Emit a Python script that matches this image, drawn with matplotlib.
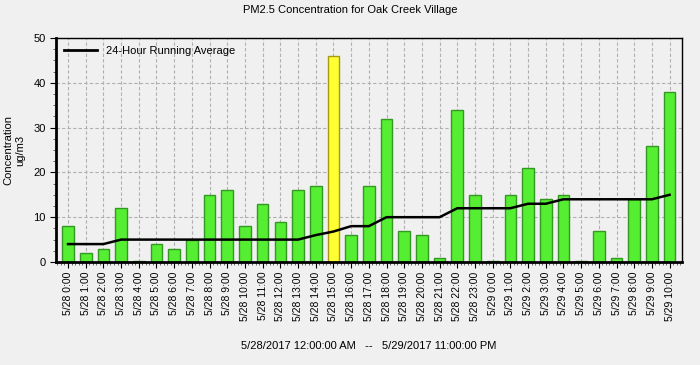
import matplotlib
matplotlib.use("Agg")
import matplotlib.pyplot as plt
from matplotlib.ticker import MultipleLocator
from matplotlib.lines import Line2D

hours_0528 = [f"5/28 {h}:00" for h in range(24)]
hours_0529 = [f"5/29 {h}:00" for h in range(11)]
labels = hours_0528 + hours_0529

concentration = [8, 2, 3, 12, 0.3, 4, 3, 5, 15, 16, 8, 13, 9, 16, 17, 46,
                 6, 17, 32, 7, 6, 1, 34, 15,
                 0.3, 15, 21, 14, 15, 0.3, 7, 1, 14, 26, 38]
running_avg = [4, 4, 4, 5, 5, 5, 5, 5, 5, 5, 5, 5, 5, 5, 6, 6.8,
               8, 8, 10, 10, 10, 10, 12, 12,
               12, 12, 13, 13, 14, 14, 14, 14, 14, 14, 15]
highlight_index = 15

plt.rcParams['font.family'] = ['Liberation Sans', 'DejaVu Sans']

bg = '#f0f0f0'
fig = plt.figure(figsize=(7.0, 3.65), dpi=100, facecolor=bg)
ax = fig.add_axes([0.08, 0.2822, 0.894, 0.6137])
ax.set_facecolor(bg)

x = list(range(len(labels)))
face = ['#55ee33'] * len(x)
edge = ['#339922'] * len(x)
face[highlight_index] = '#ffff33'
edge[highlight_index] = '#a89a10'

ax.set_axisbelow(True)
ax.grid(True, which='major', color='#b0b0b0', linestyle=(0, (3, 2)), linewidth=0.8)
ax.bar(x, concentration, width=0.66, color=face, edgecolor=edge, linewidth=1.0, zorder=2)
ax.plot(x, running_avg, color='black', linewidth=1.8, zorder=3)

ax.set_xlim(-0.68, 34.69)
ax.set_ylim(0, 50)
ax.yaxis.set_major_locator(MultipleLocator(10))
ax.yaxis.set_minor_locator(MultipleLocator(2.5))
ax.set_xticks(x)
ax.set_xticklabels(labels, rotation=90, fontsize=7.5)
ax.xaxis.set_minor_locator(MultipleLocator(0.2))
ax.tick_params(axis='y', labelsize=8, length=4, width=0.8)
ax.tick_params(axis='x', length=4, width=0.8, pad=3)
ax.tick_params(which='minor', length=2.5, width=0.6, color='#555555')

for side in ['left', 'bottom']:
    ax.spines[side].set_linewidth(2.0)
for side in ['top', 'right']:
    ax.spines[side].set_linewidth(1.0)

ax.set_ylabel("Concentration\nug/m3", fontsize=8, labelpad=6)
ax.set_xlabel("5/28/2017 12:00:00 AM   --   5/29/2017 11:00:00 PM", fontsize=8, labelpad=14)
fig.text(0.5, 0.972, "PM2.5 Concentration for Oak Creek Village", ha='center', va='center', fontsize=8)

handle = Line2D([0], [0], color='black', linewidth=2)
ax.legend([handle], ["24-Hour Running Average"], loc='upper left', frameon=False,
          fontsize=8, handlelength=3, borderaxespad=0.3)

fig.savefig("out.png", dpi=100, facecolor=bg)
